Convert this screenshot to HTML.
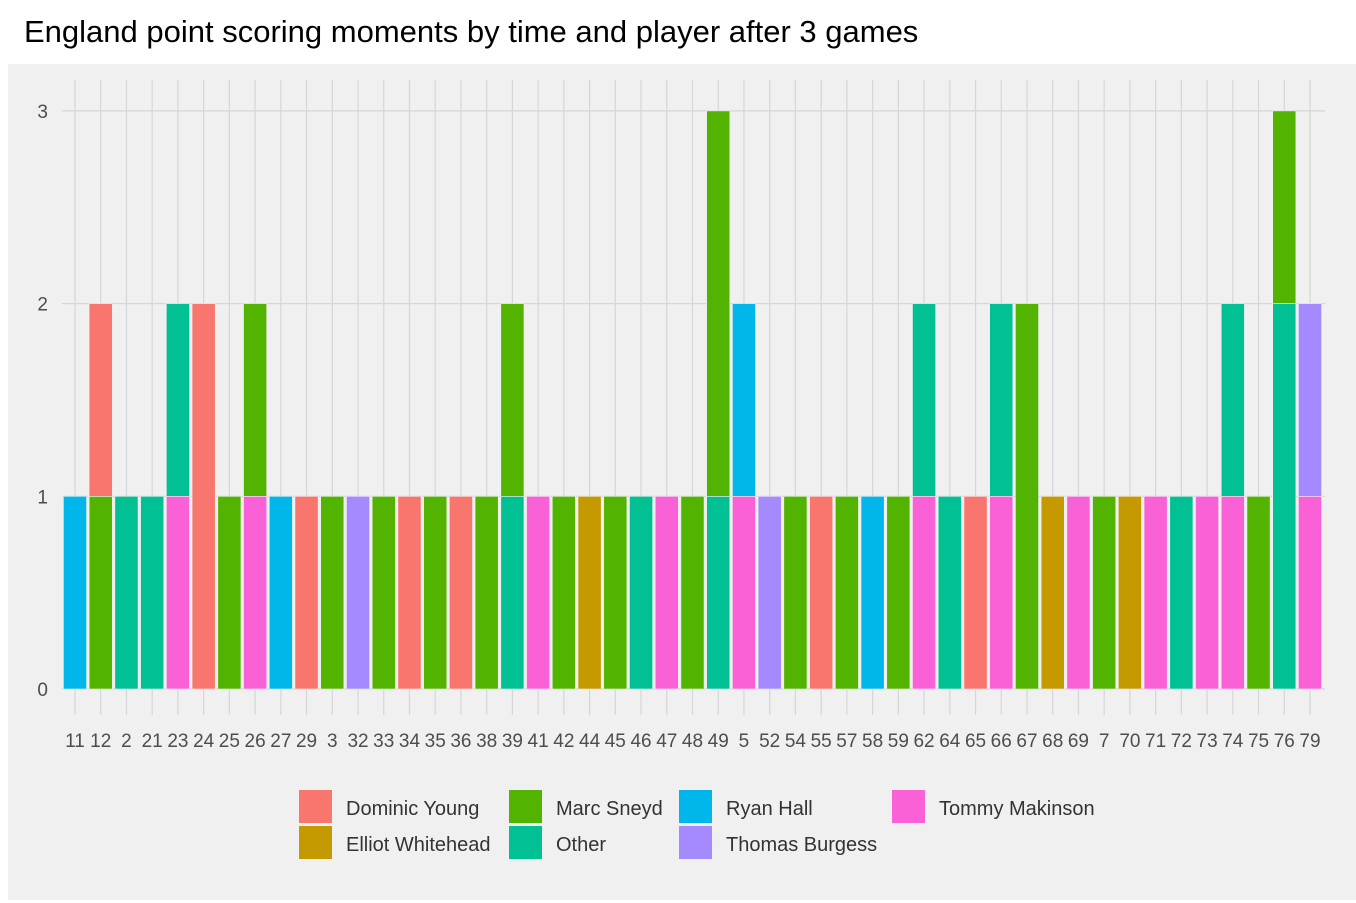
<!DOCTYPE html>
<html><head><meta charset="utf-8"><style>
body{margin:0;background:#fff;width:1356px;height:903px;overflow:hidden;font-family:"Liberation Sans",sans-serif}
#title{position:absolute;left:24px;top:14px;font-size:31px;color:#000}
svg{position:absolute;left:0;top:0}
</style></head><body>
<div id="title">England point scoring moments by time and player after 3 games</div>
<svg id="chart" width="1356" height="903"></svg>
<script>
const categories=["11","12","2","21","23","24","25","26","27","29","3","32","33","34","35","36","38","39","41","42","44","45","46","47","48","49","5","52","54","55","57","58","59","62","64","65","66","67","68","69","7","70","71","72","73","74","75","76","79"];
const players=["Dominic Young","Elliot Whitehead","Marc Sneyd","Other","Ryan Hall","Thomas Burgess","Tommy Makinson"];
const colors=["#F8766D","#C49A00","#53B400","#00C094","#00B6EB","#A58AFF","#FB61D7"];
// counts per category, order matches players
const dominic=[0,1,0,0,0,2,0,0,0,1,0,0,0,1,0,1,0,0,0,0,0,0,0,0,0,0,0,0,0,1,0,0,0,0,0,1,0,0,0,0,0,0,0,0,0,0,0,0,0];
const elliot =[0,0,0,0,0,0,0,0,0,0,0,0,0,0,0,0,0,0,0,0,1,0,0,0,0,0,0,0,0,0,0,0,0,0,0,0,0,0,1,0,0,1,0,0,0,0,0,0,0];
const marc   =[0,1,0,0,0,0,1,1,0,0,1,0,1,0,1,0,1,1,0,1,0,1,0,0,1,2,0,0,1,0,1,0,1,0,0,0,0,2,0,0,1,0,0,0,0,0,1,1,0];
const other  =[0,0,1,1,1,0,0,0,0,0,0,0,0,0,0,0,0,1,0,0,0,0,1,0,0,1,0,0,0,0,0,0,0,1,1,0,1,0,0,0,0,0,0,1,0,1,0,2,0];
const ryan   =[1,0,0,0,0,0,0,0,1,0,0,0,0,0,0,0,0,0,0,0,0,0,0,0,0,0,1,0,0,0,0,1,0,0,0,0,0,0,0,0,0,0,0,0,0,0,0,0,0];
const thomas =[0,0,0,0,0,0,0,0,0,0,0,1,0,0,0,0,0,0,0,0,0,0,0,0,0,0,0,1,0,0,0,0,0,0,0,0,0,0,0,0,0,0,0,0,0,0,0,0,1];
const tommy  =[0,0,0,0,1,0,0,1,0,0,0,0,0,0,0,0,0,0,1,0,0,0,0,1,0,0,1,0,0,0,0,0,0,1,0,0,1,0,0,1,0,0,1,0,1,1,0,0,1];
const yTicks=[0,1,2,3];
const series=[dominic,elliot,marc,other,ryan,thomas,tommy];
const NS="http://www.w3.org/2000/svg";
const svg=document.getElementById('chart');
function mk(t,a){const e=document.createElementNS(NS,t);for(const k in a)e.setAttribute(k,a[k]);svg.appendChild(e);return e;}
const bg=mk('rect',{x:8,y:64,width:1348,height:836,fill:'#f0f0f0'});


const x0=75,x1=1310,step=(x1-x0)/(categories.length-1),bw=step*0.9;
const y=v=>689-v*192.7;
const xs=i=>x0+i*step;
yTicks.forEach(t=>{
 const l=mk('line',{x1:62,x2:1325,y1:y(t),y2:y(t),stroke:'#d6d6d6','stroke-width':1.2});
 
 
 const tx=mk('text',{x:48,y:y(t)+7,'text-anchor':'end','font-size':19,fill:'#4d4d4d'});
 tx.textContent=t;
 
 
});
categories.forEach((c,i)=>{
 const l=mk('line',{x1:xs(i),x2:xs(i),y1:80,y2:700,stroke:'#d6d6d6','stroke-width':1.2});
 
 
 const tk=mk('line',{x1:xs(i),x2:xs(i),y1:700,y2:715,stroke:'#d6d6d6','stroke-width':1.2});
 
 
 const tx=mk('text',{x:xs(i),y:747,'text-anchor':'middle','font-size':19,fill:'#4d4d4d'});
 tx.textContent=c;
 
 
});
categories.forEach((c,i)=>{
 let base=0;
 for(let s=series.length-1;s>=0;s--){
  const v=series[s][i];if(!v)continue;
  const r=mk('rect',{x:xs(i)-bw/2,y:y(base+v),width:bw,height:y(base)-y(base+v),fill:colors[s],stroke:'#f0f0f0','stroke-width':0.6});
  
  
  base+=v;
 }
});
const legPos=[[299,790],[299,826],[509,790],[509,826],[679,790],[679,826],[892,790]];
players.forEach((p,i)=>{
 const [lx,ly]=legPos[i];
 const k=mk('rect',{x:lx,y:ly,width:33,height:33,fill:colors[i]});
 
 
 const t=mk('text',{x:lx+47,y:ly+25,'font-size':20,fill:'#333'});
 t.textContent=p;
 
 
});
</script>
</body></html>
